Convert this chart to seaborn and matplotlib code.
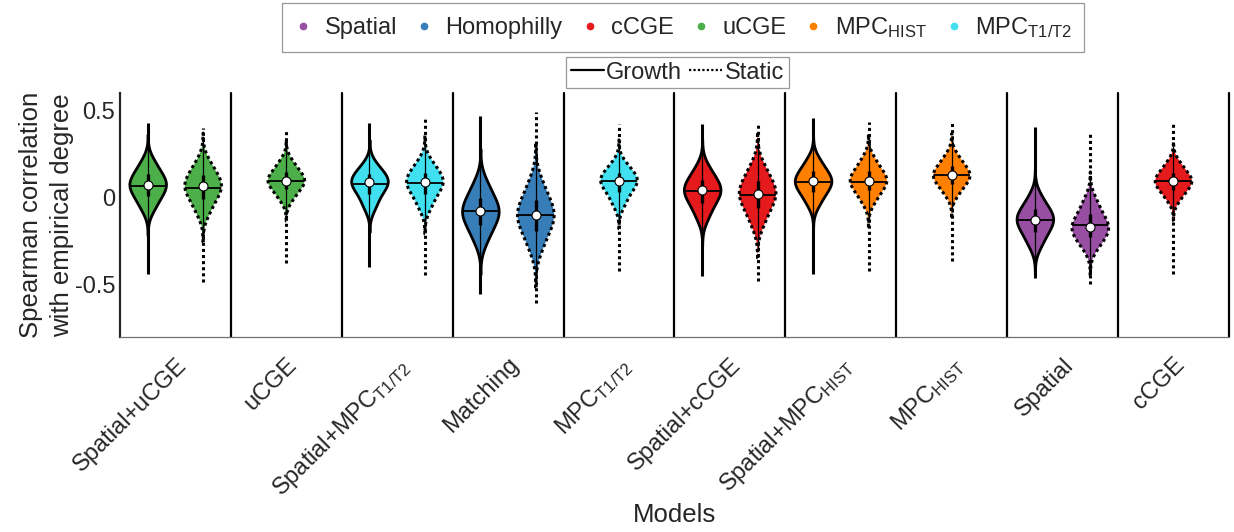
import numpy as np
import pandas as pd
import matplotlib
matplotlib.use("Agg")
import matplotlib.pyplot as plt
import matplotlib.transforms as mtransforms
import seaborn as sns
from matplotlib.lines import Line2D
from matplotlib.collections import PolyCollection

# ---------------- data ----------------
models = ["Spatial+uCGE", "uCGE", "Spatial+MPC$_{T1/T2}$", "Matching",
          "MPC$_{T1/T2}$", "Spatial+cCGE", "Spatial+MPC$_{HIST}$",
          "MPC$_{HIST}$", "Spatial", "cCGE"]

families = ["Spatial", "Homophilly", "cCGE", "uCGE", "MPC_HIST", "MPC_T1T2"]
family_labels = ["Spatial", "Homophilly", "cCGE", "uCGE",
                 "MPC$_{HIST}$", "MPC$_{T1/T2}$"]
family_colors = ["#984EA3", "#377EB8", "#E41A1C", "#4DAF4A", "#FF7F00", "#40E0F0"]

violin_model = [0, 0, 1, 2, 2, 3, 3, 4, 5, 5, 6, 6, 7, 8, 8, 9]
violin_type = ["Growth", "Static", "Static", "Growth", "Static", "Growth", "Static",
               "Static", "Growth", "Static", "Growth", "Static", "Static",
               "Growth", "Static", "Static"]
violin_family = ["uCGE", "uCGE", "uCGE", "MPC_T1T2", "MPC_T1T2", "Homophilly",
                 "Homophilly", "MPC_T1T2", "cCGE", "cCGE", "MPC_HIST", "MPC_HIST",
                 "MPC_HIST", "Spatial", "Spatial", "cCGE"]

# deciles (10%..90%) of each distribution, estimated from the violin shapes
violin_deciles = [
    [-0.060, -0.010, 0.030, 0.053, 0.075, 0.095, 0.118, 0.155, 0.205],
    [-0.085, -0.028, 0.015, 0.041, 0.065, 0.087, 0.110, 0.150, 0.200],
    [-0.008, 0.032, 0.064, 0.082, 0.098, 0.114, 0.132, 0.165, 0.205],
    [-0.055, 0.000, 0.041, 0.065, 0.088, 0.103, 0.119, 0.148, 0.188],
    [-0.055, 0.000, 0.041, 0.065, 0.088, 0.106, 0.125, 0.159, 0.203],
    [-0.245, -0.180, -0.134, -0.106, -0.079, -0.052, -0.024, 0.022, 0.085],
    [-0.290, -0.215, -0.163, -0.130, -0.100, -0.070, -0.037, 0.015, 0.090],
    [-0.040, 0.012, 0.050, 0.073, 0.094, 0.109, 0.125, 0.154, 0.193],
    [-0.110, -0.050, -0.008, 0.018, 0.042, 0.062, 0.084, 0.120, 0.172],
    [-0.150, -0.082, -0.035, -0.005, 0.023, 0.048, 0.075, 0.120, 0.180],
    [-0.034, 0.017, 0.052, 0.074, 0.094, 0.113, 0.133, 0.168, 0.215],
    [-0.023, 0.025, 0.059, 0.079, 0.098, 0.117, 0.137, 0.171, 0.220],
    [0.020, 0.062, 0.092, 0.111, 0.128, 0.145, 0.164, 0.195, 0.238],
    [-0.270, -0.215, -0.175, -0.150, -0.126, -0.105, -0.085, -0.050, 0.005],
    [-0.285, -0.242, -0.207, -0.187, -0.168, -0.143, -0.116, -0.072, -0.015],
    [-0.010, 0.030, 0.060, 0.078, 0.094, 0.110, 0.128, 0.158, 0.198],
]
violin_min = [-0.437, -0.487, -0.375, -0.400, -0.443, -0.553, -0.605, -0.420,
              -0.448, -0.480, -0.437, -0.420, -0.362, -0.462, -0.496, -0.437]
violin_max = [0.430, 0.400, 0.390, 0.430, 0.454, 0.470, 0.490, 0.420,
              0.420, 0.430, 0.458, 0.435, 0.435, 0.406, 0.378, 0.420]
violin_mean = [0.068, 0.058, 0.098, 0.080, 0.082, -0.079, -0.100, 0.094,
               0.036, 0.017, 0.090, 0.092, 0.128, -0.126, -0.160, 0.097]

decile_probs = [0.1, 0.2, 0.3, 0.4, 0.5, 0.6, 0.7, 0.8, 0.9]

# ---------------- style ----------------
sns.set_theme(style="white")
plt.rcParams["font.family"] = ["Liberation Sans", "DejaVu Sans"]
plt.rcParams["mathtext.fontset"] = "custom"
plt.rcParams["mathtext.rm"] = "Liberation Sans"
plt.rcParams["mathtext.it"] = "Liberation Sans:italic"
plt.rcParams["mathtext.default"] = "regular"
TXT = "#262626"

fig = plt.figure(figsize=(12.34, 5.32), dpi=100)
ax = fig.add_axes([0.0972, 0.3665, 0.8987, 0.4586])

# positions of the violins (two per model when both variants exist)
counts = pd.Series(violin_model).value_counts()
xs = []
for m, t in zip(violin_model, violin_type):
    c = m + 1
    if counts[m] == 2:
        c = c - 0.25 if t == "Growth" else c + 0.25
    xs.append(c)

rows = []
for i in range(len(violin_model)):
    for v in violin_deciles[i]:
        rows.append({"x": xs[i], "value": v, "family": violin_family[i]})
df = pd.DataFrame(rows)

palette = dict(zip(families, family_colors))

# tails (drawn under the violin bodies)
for i in range(len(xs)):
    ls = "-" if violin_type[i] == "Growth" else (0, (1, 1))
    ax.plot([xs[i], xs[i]], [violin_min[i], violin_max[i]], color="black",
            lw=2.2, ls=ls, zorder=0.8, solid_capstyle="butt")

sns.violinplot(data=df, x="x", y="value", hue="family", palette=palette,
               native_scale=True, dodge=False, density_norm="width",
               inner=None, cut=3, bw_adjust=1.0, width=0.66, linewidth=2.0,
               linecolor="black", saturation=1, legend=False, ax=ax)

polys = [c for c in ax.collections if isinstance(c, PolyCollection)]
poly_for = {}
for c in polys:
    v = c.get_paths()[0].vertices
    cx = (v[:, 0].min() + v[:, 0].max()) / 2
    k = int(np.argmin([abs(cx - x) for x in xs]))
    poly_for[k] = c
    if violin_type[k] == "Static":
        c.set_linestyle((0, (1, 1)))
        c.set_linewidth(2.2)

# inner elements: mean line, whiskers, IQR box, median dot
meds = []
for i in range(len(xs)):
    d = violin_deciles[i]
    q1 = np.interp(0.25, decile_probs, d)
    q3 = np.interp(0.75, decile_probs, d)
    med = np.interp(0.5, decile_probs, d)
    meds.append(med)
    iqr = q3 - q1
    wlo = max(q1 - 1.5 * iqr, violin_min[i])
    whi = min(q3 + 1.5 * iqr, violin_max[i])
    ln, = ax.plot([xs[i] - 0.3, xs[i] + 0.3], [violin_mean[i]] * 2,
                  color="black", lw=1.3, zorder=3)
    if i in poly_for:
        ln.set_clip_path(poly_for[i].get_paths()[0], ax.transData)
    ax.plot([xs[i], xs[i]], [wlo, whi], color="black", lw=0.9, zorder=3)
    ax.plot([xs[i], xs[i]], [q1, q3], color="black", lw=2.4, zorder=3.5,
            solid_capstyle="butt")
sns.scatterplot(x=xs, y=meds, color="white", edgecolor="black", s=42,
                linewidth=0.8, zorder=5, ax=ax, legend=False)

# separators between models
for b in np.arange(1.5, 11.0, 1.0):
    ax.axvline(b, color="black", lw=1.6, zorder=0.5, clip_on=False)

ax.set_xlim(0.5, 10.5)
ax.set_ylim(-0.8, 0.6)
ax.set_xticks(range(1, 11))
ax.set_xticklabels(models, rotation=45, ha="right", va="top",
                   rotation_mode="anchor", fontsize=17, color=TXT)
shift = mtransforms.ScaledTranslation(6 / 100, 0, fig.dpi_scale_trans)
for lab in ax.get_xticklabels():
    lab.set_transform(lab.get_transform() + shift)
ax.set_yticks([-0.5, 0, 0.5])
ax.set_yticklabels(["-0.5", "0", "0.5"], fontsize=17, color=TXT)
ax.tick_params(axis="both", direction="in", length=7, width=0.8,
               color="#808080")
ax.tick_params(axis="y", pad=3.5)
ax.tick_params(axis="x", pad=12)
for s in ["top", "right"]:
    ax.spines[s].set_visible(False)
ax.spines["left"].set_color(TXT)
ax.spines["left"].set_linewidth(1.6)
ax.spines["bottom"].set_color("#707070")
ax.spines["bottom"].set_linewidth(0.9)

ax.set_xlabel("Models", fontsize=18.5, color=TXT)
ax.xaxis.set_label_coords(0.5, -0.68)
ax.set_ylabel("Spearman correlation\nwith empirical degree", fontsize=18.5,
              color=TXT, linespacing=1.35)
ax.yaxis.set_label_coords(-0.0415, 0.5)

# legends
h1 = [Line2D([], [], marker="o", ls="", color=c, markersize=4.5)
      for c in family_colors]
leg1 = fig.legend(h1, family_labels, loc="upper center",
                  bbox_to_anchor=(683 / 1234, 1 - 3 / 532), ncol=6,
                  fontsize=17, frameon=True, fancybox=False,
                  edgecolor="#808080", handlelength=0.8, handletextpad=0.5,
                  columnspacing=0.75, borderpad=0.5, borderaxespad=0)
leg1.get_frame().set_linewidth(0.9)
h2 = [Line2D([], [], color="black", lw=1.6, ls="-"),
      Line2D([], [], color="black", lw=1.6, ls=(0, (1, 1)))]
leg2 = fig.legend(h2, ["Growth", "Static"], loc="upper center",
                  bbox_to_anchor=(677.5 / 1234, 1 - 57 / 532), ncol=2,
                  fontsize=17, frameon=True, fancybox=False,
                  edgecolor="#808080", handlelength=1.4, handletextpad=0.1,
                  columnspacing=0.3, borderpad=0.2, borderaxespad=0)
leg2.get_frame().set_linewidth(0.9)

fig.savefig("out.png", dpi=100)
